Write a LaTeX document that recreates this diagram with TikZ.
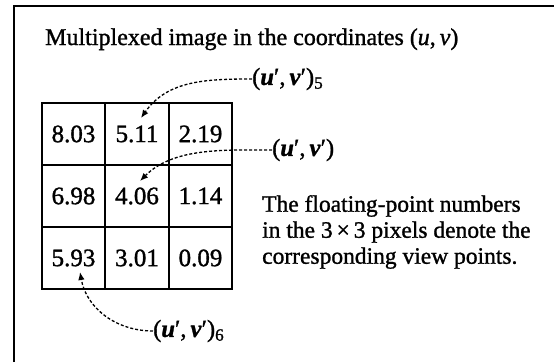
\documentclass[tikz,border=0pt]{standalone}
\usepackage{fontspec}
\setmainfont{Liberation Serif}[FakeBold=1.2]
\usetikzlibrary{arrows.meta}
\begin{document}
\begin{tikzpicture}[x=1pt,y=-1pt,
  cell/.style={draw,line width=1.8pt,minimum width=63.5pt,minimum height=62pt,inner sep=0pt,outer sep=0pt,font=\fontsize{25}{26}\selectfont},
  lbl/.style={inner sep=0pt,anchor=west,font=\fontsize{24.5}{26}\selectfont},
  darrow/.style={line width=1.3pt,dash pattern=on 3pt off 2pt,-{Latex[length=8pt,width=6.5pt]}},
  txt/.style={inner sep=0pt,font=\fontsize{23.5}{26}\selectfont}]
\useasboundingbox (0,0) rectangle (554,362);
\fill[white] (0,0) rectangle (554,362);
\coordinate (fb) at (14,362);
\coordinate (fc) at (14,6);
\coordinate (fr) at (554,6);
\draw[line width=2pt] (fb) -- (fc) -- (fr);
\node[txt,anchor=base west,font=\fontsize{24}{26}\selectfont] (title) at (45,45) {Multiplexed image in the coordinates (\textit{u},\,\textit{v})};
\node[cell] (c11) at (73.5,134) {8.03};
\node[cell] (c12) at (137,134) {5.11};
\node[cell] (c13) at (200.5,134) {2.19};
\node[cell] (c21) at (73.5,196) {6.98};
\node[cell] (c22) at (137,196) {4.06};
\node[cell] (c23) at (200.5,196) {1.14};
\node[cell] (c31) at (73.5,258) {5.93};
\node[cell] (c32) at (137,258) {3.01};
\node[cell] (c33) at (200.5,258) {0.09};
\node[lbl] (l5) at (252,79) {(\textbf{\textit{u}}′,\,\textbf{\textit{v}}′)\textsubscript{5}};
\node[lbl] (lm) at (272,150) {(\textbf{\textit{u}}′,\,\textbf{\textit{v}}′)};
\node[lbl] (l6) at (153,331) {(\textbf{\textit{u}}′,\,\textbf{\textit{v}}′)\textsubscript{6}};
\node[txt,anchor=west,align=left] (para) at (262,232) {The floating-point numbers\\in the 3\,×\,3 pixels denote the\\corresponding view points.};
\coordinate (t5) at (141,118);
\coordinate (tm) at (140,181);
\coordinate (t6) at (80,272);
\draw[darrow] (l5.west) to[out=180,in=55] (t5);
\draw[darrow] (lm.west) to[out=180,in=45,looseness=0.9] (tm);
\draw[darrow] (l6.west) to[out=180,in=-80] (t6);
\end{tikzpicture}
\end{document}
